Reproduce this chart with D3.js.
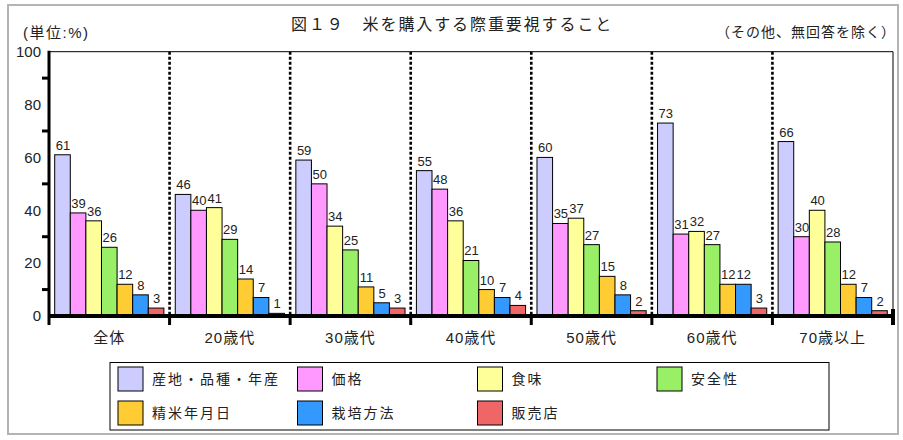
<!DOCTYPE html>
<html><head><meta charset="utf-8">
<script src="https://cdn.jsdelivr.net/npm/d3@7"></script>
<style>
body{margin:0;background:#fff;}
svg text{font-family:"Liberation Sans","Noto Sans CJK JP",sans-serif;fill:#222;}
</style></head>
<body><svg id="c" width="903" height="440"></svg>
<script>
const categories = ["全体","20歳代","30歳代","40歳代","50歳代","60歳代","70歳以上"];
const seriesNames = ["産地・品種・年産","価格","食味","安全性","精米年月日","栽培方法","販売店"];
const sSanchi = [61,46,59,55,60,73,66];
const sKakaku = [39,40,50,48,35,31,30];
const sShokumi = [36,41,34,36,37,32,40];
const sAnzen = [26,29,25,21,27,27,28];
const sSeimai = [12,14,11,10,15,12,12];
const sSaibai = [8,7,5,7,8,12,7];
const sHanbai = [3,1,3,4,2,3,2];
const seriesValues = [sSanchi,sKakaku,sShokumi,sAnzen,sSeimai,sSaibai,sHanbai];
const colors = ["#CCCCFF","#FF99FF","#FFFF99","#99F066","#FFCC33","#3399FF","#F06666"];
const yTicks = [0,20,40,60,80,100];
const yMinor = [10,30,50,70,90];

const svg = d3.select("#c");
// outer frame
svg.append("rect").attr("x",8).attr("y",5).attr("width",890).attr("height",429)
  .attr("fill","none").attr("stroke","#b4b4b4").attr("stroke-width",2);

const L=49, R=893, T=51.7, B=316;
const x0 = d3.scaleBand().domain(categories).range([L,R]).padding(0);
const x1 = d3.scaleBand().domain(d3.range(seriesNames.length)).range([0,x0.bandwidth()]).paddingInner(0).paddingOuter(0.365);
const y = d3.scaleLinear().domain([0,100]).range([B,T]);

// plot frame (top & right thin)
svg.append("line").attr("x1",L).attr("x2",R).attr("y1",T).attr("y2",T).attr("stroke","#000").attr("stroke-width",1);
svg.append("line").attr("x1",R).attr("x2",R).attr("y1",T).attr("y2",B).attr("stroke","#000").attr("stroke-width",1);

// separators
svg.selectAll("line.sep").data(categories.slice(1)).join("line").attr("class","sep")
  .attr("x1",d=>x0(d)).attr("x2",d=>x0(d)).attr("y1",T).attr("y2",B)
  .attr("stroke","#000").attr("stroke-width",2.6).attr("stroke-dasharray","3,2");

// bars
const g = svg.selectAll("g.grp").data(categories).join("g").attr("class","grp")
  .attr("transform",d=>`translate(${x0(d)},0)`);
g.each(function(cat,ci){
  const gg = d3.select(this);
  const data = seriesValues.map((s,si)=>({si,v:s[ci]}));
  gg.selectAll("rect").data(data).join("rect")
    .attr("x",d=>x1(d.si)).attr("width",x1.bandwidth())
    .attr("y",d=>y(d.v)).attr("height",d=>B-y(d.v))
    .attr("fill",d=>colors[d.si]).attr("stroke","#000").attr("stroke-width",1);
  gg.selectAll("text").data(data).join("text")
    .attr("x",d=>x1(d.si)+x1.bandwidth()/2+0.5).attr("y",d=>y(d.v)-5)
    .attr("text-anchor","middle").attr("font-size",13).text(d=>d.v);
});

// y axis
const yAxis = d3.axisLeft(y).tickValues(yTicks).tickSize(0).tickPadding(8).tickFormat(d3.format("d"));
const ya = svg.append("g").attr("transform",`translate(${L},0)`).call(yAxis);
ya.select(".domain").remove();
ya.selectAll("text").attr("font-size",15).attr("fill","#222").attr("font-family",null);
svg.selectAll("line.ymin").data(yMinor).join("line").attr("class","ymin")
  .attr("x1",L-7).attr("x2",L).attr("y1",d=>y(d)).attr("y2",d=>y(d))
  .attr("stroke","#000").attr("stroke-width",3);
svg.append("line").attr("x1",L).attr("x2",L).attr("y1",T-1).attr("y2",B+9).attr("stroke","#000").attr("stroke-width",3);

// x axis
svg.append("line").attr("x1",L).attr("x2",R+2).attr("y1",B).attr("y2",B).attr("stroke","#000").attr("stroke-width",4);
const bounds = categories.slice(1).map(c=>x0(c));
svg.selectAll("line.xt").data(bounds).join("line").attr("class","xt")
  .attr("x1",d=>d).attr("x2",d=>d).attr("y1",B).attr("y2",B+9).attr("stroke","#000").attr("stroke-width",3);
svg.append("line").attr("x1",R).attr("x2",R).attr("y1",B-7).attr("y2",B+9).attr("stroke","#000").attr("stroke-width",4);
const xAxis = d3.axisBottom(x0).tickSize(0).tickPadding(0);
const xa = svg.append("g").attr("transform",`translate(0,${B+27})`).call(xAxis);
xa.select(".domain").remove();
xa.selectAll("text").attr("font-size",15).attr("fill","#222").attr("font-family",null)
  .attr("dy",0).style("letter-spacing","1px");

// titles
svg.append("text").attr("x",291).attr("y",30).attr("font-size",16).style("letter-spacing","1.9px")
  .text("図１９　米を購入する際重要視すること");
svg.append("text").attr("x",23).attr("y",38).attr("font-size",15).style("letter-spacing","1.5px").text("(単位:%)");
svg.append("text").attr("x",716).attr("y",37).attr("font-size",14).style("letter-spacing","1px").text("（その他、無回答を除く）");

// legend
svg.append("rect").attr("x",110).attr("y",362.5).attr("width",719).attr("height",67.5)
  .attr("fill","#fff").attr("stroke","#000").attr("stroke-width",1);
const colX = [118,297.5,477.5,657];
const rowY = [367,401];
const lg = svg.selectAll("g.lg").data(seriesNames).join("g").attr("class","lg")
  .attr("transform",(d,i)=>`translate(${colX[i%4]},${rowY[Math.floor(i/4)]})`);
lg.append("rect").attr("width",25).attr("height",24).attr("fill",(d,i)=>colors[i]).attr("stroke","#000").attr("stroke-width",1);
lg.append("text").attr("x",34).attr("y",17).attr("font-size",14).style("letter-spacing","2px").text(d=>d);
</script></body></html>
